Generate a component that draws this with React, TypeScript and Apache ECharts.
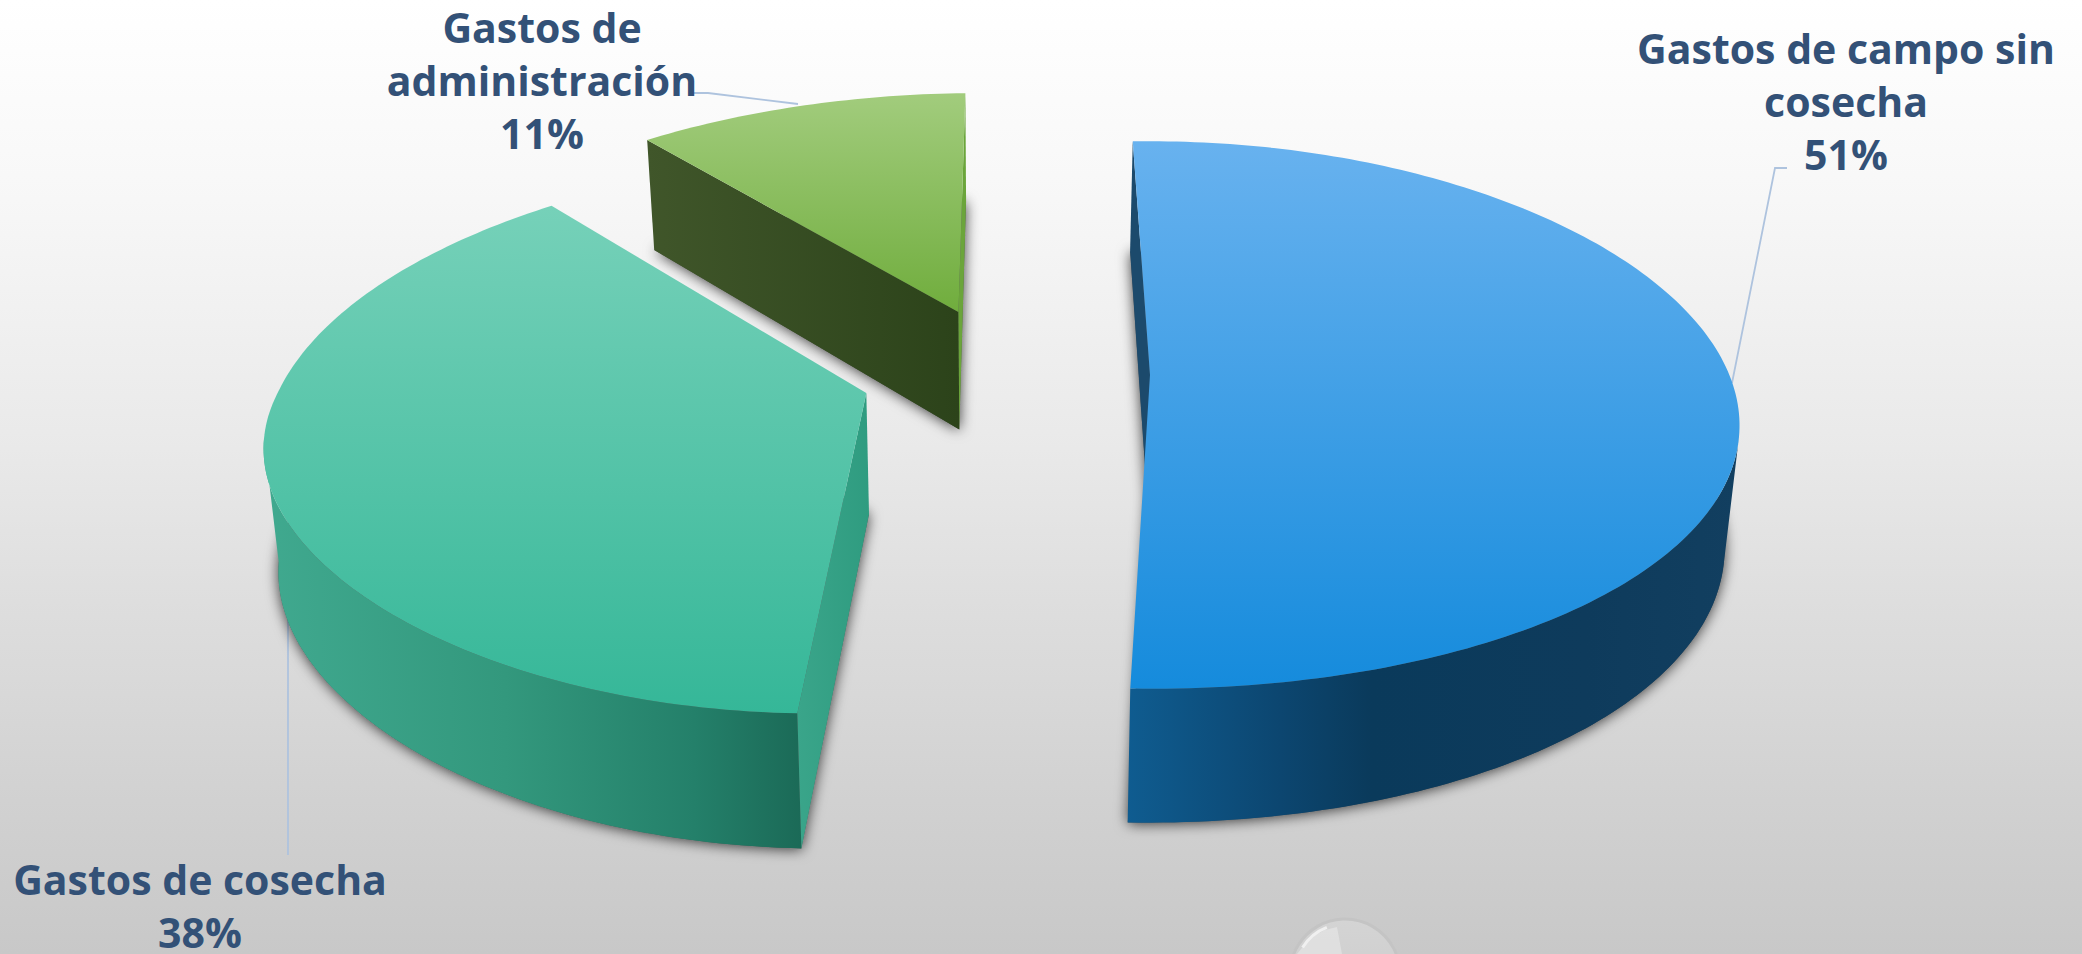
import React, { useEffect, useRef } from "react";
import * as echarts from "echarts";

// ---- data ----
const categories = ["Gastos de campo sin\ncosecha", "Gastos de cosecha", "Gastos de\nadministración"];
const shares = [51, 38.3, 10.7];
const shareLabels = ["51%", "38%", "11%"];

// ---- styling and layout ----
const startAngleDeg = -1.8;
const explodedCentres = [[1150, 0], [869, 39], [952, -142]];
const radius = 583;
const persp = { vx: 1140, vy: -1460, depth: 1835, k: 0.146 };
const extrude = { cx: 1000, sx: 0.98, ay: 1.0435, by: 104 };
const sideBow = [10, 0, 0];
const lowerBow = [0, -24, 0];
const visibleWallDeg = [100, 260];
const topColors = [["#68b2ef", "#158bdc"], ["#76d1b9", "#35b798"], ["#a2cc7d", "#70ad3d"]];
const wallColors = [
  [[0, "#0f5c90"], [0.25, "#0c4670"], [0.4, "#0a3a5b"], [0.75, "#0e3b5c"], [1, "#123f60"]],
  [[0, "#40a98f"], [0.45, "#33987d"], [0.8, "#24806a"], [1, "#1b6a57"]],
  [[0, "#3f5529"], [1, "#2c431a"]],
];
const startPlaneColors = [
  [[0, "#1c4a6c"], [1, "#1c4a6c"]],
  [[0, "#3aa58a"], [1, "#2f9c80"]],
  [[0, "#40562a"], [1, "#2c431a"]],
];
const endPlaneVisible = [false, false, true];
const endPlaneColor = "#6ba53b";
const labelX = [1846, 200, 542];
const labelY = [21, 852, 0];
const leaders = [
  [[1787, 168], [1775, 168], [1732, 383]],
  [[288, 607], [288, 855]],
  [[694, 93], [708, 93], [798, 104]],
];

const project = (X: number, Y: number) => {
  const w = 1 - (persp.k * Y) / radius;
  return [persp.vx + (X - persp.vx) / w, persp.vy + persp.depth / w];
};
const lower = (p: number[]) => [
  extrude.cx + (p[0] - extrude.cx) * extrude.sx,
  p[1] * extrude.ay + extrude.by,
];

const linear = (stops: any[], horizontal: boolean) =>
  new echarts.graphic.LinearGradient(0, 0, horizontal ? 1 : 0, horizontal ? 0 : 1,
    stops.map((s) => ({ offset: s[0], color: s[1] })));

export default function App() {
  const ref = useRef<HTMLDivElement>(null);
  useEffect(() => {
    document.body.style.margin = "0";
    const chart = echarts.init(ref.current!, undefined, { renderer: "svg" });
    const total = shares.reduce((a, b) => a + b, 0);

    const renderItem = (params: any, api: any) => {
      const i = params.dataIndex;
      const before = shares.slice(0, i).reduce((a, b) => a + b, 0);
      const a0 = startAngleDeg + (before / total) * 360;
      const a1 = a0 + (api.value(0) / total) * 360;
      const [cX, cY] = explodedCentres[i];
      const rim: number[][] = [];
      const frontRim: number[][] = [];
      const steps = Math.ceil(a1 - a0);
      for (let s = 0; s <= steps; s++) {
        const deg = a0 + ((a1 - a0) * s) / steps;
        const t = (deg * Math.PI) / 180;
        const p = project(cX + radius * Math.sin(t), cY - radius * Math.cos(t));
        const sin2 = Math.sin(t) * Math.sin(t);
        p[1] += sideBow[i] * sin2 + lowerBow[i] * sin2 * Math.max(0, -Math.cos(t));
        rim.push(p);
        if (deg >= visibleWallDeg[0] && deg <= visibleWallDeg[1]) frontRim.push(p);
      }
      const apex = project(cX, cY);
      const rimLow = rim.map(lower);
      const apexLow = lower(apex);
      const base = (2 - i) * 10;
      const first = rim[0], last = rim[rim.length - 1];
      const firstLow = rimLow[0], lastLow = rimLow[rimLow.length - 1];
      const children: any[] = [
        {
          type: "polygon", z2: base,
          shape: { points: [apexLow, ...rimLow] },
          style: { fill: "#555", shadowBlur: 14, shadowColor: "rgba(0,0,0,0.75)", shadowOffsetX: 0, shadowOffsetY: 1 },
        },
      ];
      if (frontRim.length > 1) {
        children.push({
          type: "polygon", z2: base + 1,
          shape: { points: [...frontRim, ...frontRim.map(lower).reverse()] },
          style: { fill: linear(wallColors[i], true) },
        });
      }
      children.push({
        type: "polygon", z2: base + 2,
        shape: { points: [apex, first, firstLow, apexLow] },
        style: { fill: linear(startPlaneColors[i], true) },
      });
      if (endPlaneVisible[i]) {
        children.push({
          type: "polygon", z2: base + 2,
          shape: { points: [apex, last, lastLow, apexLow] },
          style: { fill: endPlaneColor },
        });
      }
      children.push({
        type: "polygon", z2: base + 3,
        shape: { points: [apex, ...rim] },
        style: { fill: linear([[0, topColors[i][0]], [1, topColors[i][1]]], false) },
      });
      return { type: "group", children };
    };

    const graphics: any[] = [];
    leaders.forEach((pts) => {
      graphics.push({
        type: "polyline", shape: { points: pts }, silent: true,
        style: { stroke: "#aec3de", lineWidth: 1.8, fill: "none" },
      });
    });
    categories.forEach((c, i) => {
      graphics.push({
        type: "text", x: labelX[i], y: labelY[i], silent: true,
        style: {
          text: `${c}\n${shareLabels[i]}`,
          align: "center", verticalAlign: "top",
          font: 'bold 41px "Open Sans", sans-serif', lineHeight: 53, fill: "#335177",
        },
      });
    });
    // decorative glass bubble at the bottom edge
    graphics.push({
      type: "circle", shape: { cx: 1345, cy: 974, r: 55 }, silent: true,
      style: {
        fill: new echarts.graphic.LinearGradient(0, 0, 0, 1, [
          { offset: 0, color: "#d4d4d4" }, { offset: 1, color: "#cacaca" },
        ]),
        stroke: "#c4c4c4", lineWidth: 3,
      },
    });
    graphics.push({
      type: "polygon", shape: { points: [[1297, 954], [1310, 938], [1325, 930], [1337, 927], [1342, 954]] }, silent: true,
      style: { fill: "rgba(255,255,255,0.3)" },
    });
    graphics.push({
      type: "arc", shape: { cx: 1345, cy: 974, r: 50, startAngle: 3.7, endAngle: 4.34 }, silent: true,
      style: { stroke: "#f0f0f0", lineWidth: 3, fill: "none" },
    });

    chart.setOption({
      animation: false,
      backgroundColor: new echarts.graphic.LinearGradient(0, 0, 0, 1, [
        { offset: 0, color: "#ffffff" },
        { offset: 0.21, color: "#f7f7f7" },
        { offset: 0.47, color: "#e9e9e9" },
        { offset: 0.63, color: "#dedede" },
        { offset: 0.84, color: "#d1d1d1" },
        { offset: 1, color: "#c8c8c8" },
      ]),
      series: [{
        type: "custom",
        coordinateSystem: "none",
        silent: true,
        clip: false,
        renderItem,
        data: shares.map((v) => [v]),
      }],
      graphic: graphics,
    });
    return () => chart.dispose();
  }, []);
  return <div ref={ref} style={{ width: 2082, height: 954 }} />;
}
